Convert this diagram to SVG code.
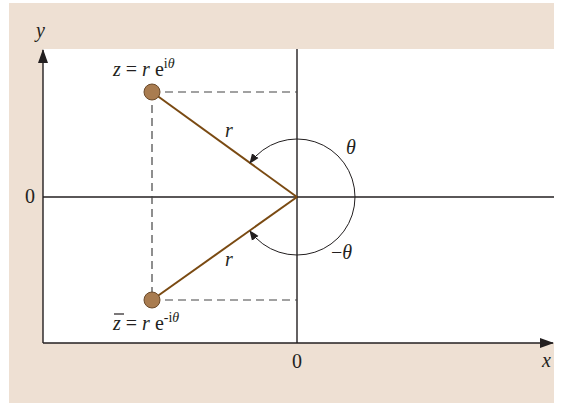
<svg xmlns="http://www.w3.org/2000/svg" width="564" height="403" viewBox="0 0 564 403">
<defs>
<style>
.t{font-family:"Liberation Serif","Times New Roman",serif;font-size:20px;fill:#231f20}
.i{font-style:italic}
.ax{stroke:#231f20;stroke-width:1.4;fill:none}
.ds{stroke:#444;stroke-width:1.2;stroke-dasharray:8,5;fill:none}
.rad{stroke:#7a4a12;stroke-width:2;fill:none}
.arc{stroke:#231f20;stroke-width:1;fill:none}
.pt{fill:#a97c50;stroke:#6b4a2a;stroke-width:1}
</style>
<marker id="ah" viewBox="0 0 10 10" refX="9" refY="5" markerWidth="10" markerHeight="10" markerUnits="userSpaceOnUse" orient="auto">
<path d="M0,1 L10,5 L0,9 Z" fill="#231f20"/>
</marker>
<marker id="big" viewBox="0 0 14 10" refX="13" refY="5" markerWidth="14" markerHeight="10" markerUnits="userSpaceOnUse" orient="auto">
<path d="M0,0 L14,5 L0,10 Z" fill="#231f20"/>
</marker>
</defs>
<rect x="9" y="3" width="545" height="400" fill="#eee0d3"/>
<rect x="43" y="49" width="511" height="294" fill="#ffffff"/>
<g id="axes">
<line class="ax" x1="43" y1="343" x2="43" y2="50" marker-end="url(#big)"/>
<line class="ax" x1="43" y1="343" x2="553" y2="343" marker-end="url(#big)"/>
<line class="ax" x1="297" y1="49" x2="297" y2="343"/>
<line class="ax" x1="43" y1="197" x2="554" y2="197"/>
</g>
<g id="connectors">
<path class="ds" d="M152,92 H297"/>
<path class="ds" d="M152,300 H297"/>
<path class="ds" d="M152,92 V300"/>
<line class="rad" x1="297" y1="197" x2="152" y2="92"/>
<line class="rad" x1="297" y1="197" x2="152" y2="300"/>
<path class="arc" d="M355,197 A58,58 0 0 0 250,163" marker-end="url(#ah)"/>
<path class="arc" d="M355,197 A58,58 0 0 1 250,231" marker-end="url(#ah)"/>
</g>
<g id="z">
<circle class="pt" cx="152" cy="92" r="8"/>
<text class="t" x="113" y="76"><tspan class="i">z</tspan> = <tspan class="i">r</tspan> e<tspan dy="-8" font-size="14">i<tspan class="i">θ</tspan></tspan></text>
</g>
<g id="zbar">
<circle class="pt" cx="152" cy="300" r="8"/>
<line x1="114" y1="314" x2="124" y2="314" stroke="#231f20" stroke-width="1.2"/>
<text class="t" x="113" y="330"><tspan class="i">z</tspan> = <tspan class="i">r</tspan> e<tspan dy="-8" font-size="14">-i<tspan class="i">θ</tspan></tspan></text>
</g>
<g id="labels">
<text class="t i" x="36" y="37">y</text>
<text class="t i" x="542" y="367">x</text>
<text class="t" x="25" y="203">0</text>
<text class="t" x="292" y="368">0</text>
<text class="t i" x="225" y="137">r</text>
<text class="t i" x="225" y="266">r</text>
<text class="t i" x="346" y="154">θ</text>
<text class="t" x="331" y="259">−<tspan class="i">θ</tspan></text>
</g>
</svg>
